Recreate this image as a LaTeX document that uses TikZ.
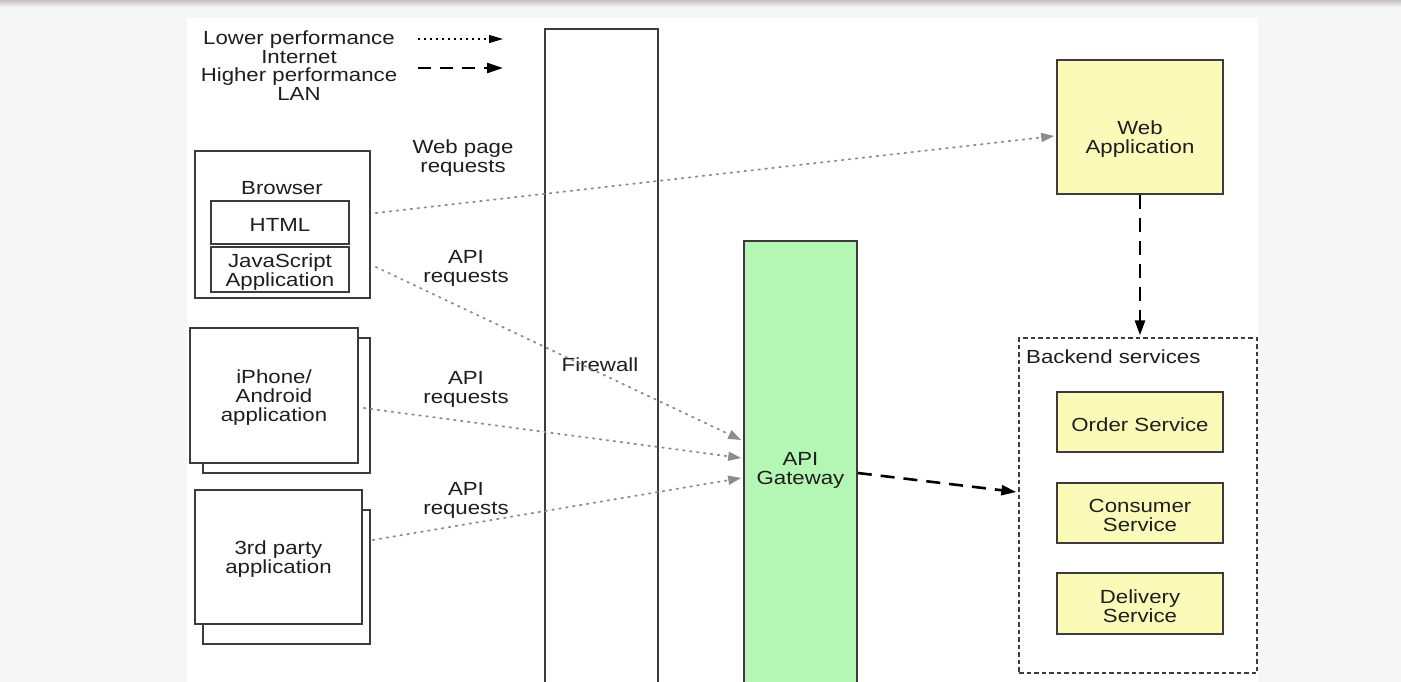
\documentclass[tikz,border=0pt]{standalone}
\usepackage{fontspec}
\setmainfont[FakeStretch=1.17]{Liberation Sans}
\usetikzlibrary{arrows.meta,calc}
\definecolor{outerbg}{RGB}{246,246,246}
\definecolor{topbar}{RGB}{200,192,192}
\definecolor{edge}{RGB}{60,60,60}
\definecolor{ink}{RGB}{30,30,30}
\definecolor{dotgray}{RGB}{140,140,140}
\definecolor{yel}{RGB}{252,250,184}
\definecolor{grn}{RGB}{180,246,180}
\tikzset{
  box/.style={draw=edge, line width=1.6pt, fill=white, inner sep=0pt, text=ink, align=center},
  ybox/.style={box, fill=yel},
  txt/.style={text=ink, align=center, inner sep=0pt, yshift=-2.5pt},
  lowarrow/.style={draw=dotgray, line width=1.8pt, dash pattern=on 1.6pt off 5.4pt, line cap=round,
    -{Triangle[length=13pt,width=9pt]}, shorten >=0pt},
  higharrow/.style={draw=black, line width=2.6pt, dash pattern=on 14pt off 9pt,
    -{Triangle[length=15pt,width=10pt]}}
}
\begin{document}
\begin{tikzpicture}[x=1pt,y=-1pt,font=\fontsize{19}{19}\selectfont]
\useasboundingbox (0,0) rectangle (1401,682);
\clip (0,0) rectangle (1401,682);
\fill[outerbg] (0,0) rectangle (1401,682);
\shade[top color=topbar, bottom color=outerbg] (0,0) rectangle (1401,7);
\fill[white] (187,18) rectangle (1258,690);

% legend
\node[txt] (leg1) at (299,44.5) {Lower performance\\Internet};
\node[txt] (leg2) at (299,81.5) {Higher performance\\LAN};
\coordinate (l1s) at (418,39); \coordinate (l1e) at (503,39);
\coordinate (l2s) at (418,68); \coordinate (l2e) at (503,68);
\draw[black, line width=1.2pt, dash pattern=on 1.5pt off 4.5pt, -{Triangle[length=14pt,width=8pt]}] (l1s) -- (l1e);
\draw[black, line width=2.4pt, dash pattern=on 13pt off 9pt, -{Triangle[length=16pt,width=10pt]}] (l2s) -- (l2e);

% firewall and gateway
\node[box, minimum width=113pt, minimum height=671pt] (fw) at (601.5,364.5) {};
\node[txt] (fwtext) at (600,362) {Firewall};
\node[box, fill=grn, minimum width=113pt, minimum height=459pt] (gw) at (800.5,470.5) {};
\node[txt] (gwtext) at (800.5,468) {API\\Gateway};

% browser
\node[box, minimum width=175pt, minimum height=147pt] (browser) at (282.5,224.5) {};
\node[txt] (browsertext) at (282,186) {Browser};
\node[box, minimum width=138pt, minimum height=43pt] (html) at (280,222.5) {};
\node[txt] (htmltext) at (280,222.5) {HTML};
\node[box, minimum width=138pt, minimum height=45pt] (js) at (280,269.5) {};
\node[txt] (jstext) at (280,269.5) {JavaScript\\Application};

% iPhone
\node[box, minimum width=167pt, minimum height=135pt] (iphoneback) at (286.5,405.5) {};
\node[box, minimum width=168pt, minimum height=135pt] (iphone) at (274,395.5) {};
\node[txt] (iphonetext) at (274,395.5) {iPhone/\\Android\\application};

% 3rd party
\node[box, minimum width=167pt, minimum height=134pt] (thirdback) at (286.5,577) {};
\node[box, minimum width=167pt, minimum height=134pt] (third) at (278.5,557) {};
\node[txt] (thirdtext) at (278.5,557) {3rd party\\application};

% web application
\node[ybox, minimum width=166pt, minimum height=134pt] (webapp) at (1140,127) {};
\node[txt] (webapptext) at (1140,137) {Web\\Application};

% backend
\node[draw=edge, line width=1.3pt, dash pattern=on 4.5pt off 3pt, inner sep=0pt,
      minimum width=238pt, minimum height=335pt] (backend) at (1138,505.5) {};
\node[txt, anchor=west] (backendtext) at (1026,354) {Backend services};
\node[ybox, minimum width=166pt, minimum height=60pt] (order) at (1140,422) {};
\node[txt] (ordertext) at (1140,422) {Order Service};
\node[ybox, minimum width=166pt, minimum height=60pt] (consumer) at (1140,513) {};
\node[txt] (consumertext) at (1140,513) {Consumer\\Service};
\node[ybox, minimum width=166pt, minimum height=61pt] (delivery) at (1140,603.5) {};
\node[txt] (deliverytext) at (1140,603.5) {Delivery\\Service};

% labels
\node[txt] (lbl1) at (463,156) {Web page\\requests};
\node[txt] (lbl2) at (466,266) {API\\requests};
\node[txt] (lbl3) at (466,387) {API\\requests};
\node[txt] (lbl4) at (466,498) {API\\requests};

% connectors
\draw[lowarrow] ([xshift=5pt,yshift=11.5pt]browser.east) -- ([xshift=-2pt,yshift=-9pt]webapp.west);
\draw[lowarrow] ([xshift=5pt,yshift=-42.5pt]browser.east) -- ([xshift=-2pt,yshift=30.5pt]gw.west);
\draw[lowarrow] ([xshift=5pt,yshift=-12.5pt]iphone.east) -- ([xshift=-2pt,yshift=12.5pt]gw.west);
\draw[lowarrow] ([xshift=10pt,yshift=17pt]third.east) -- ([xshift=-2pt,yshift=-7.5pt]gw.west);
\draw[higharrow] ([yshift=-2.5pt]gw.east) -- ([xshift=-2pt,yshift=13.5pt]backend.west);
\draw[higharrow] (webapp.south) -- ([yshift=2pt]webapp.south |- backend.north);
\end{tikzpicture}
\end{document}
